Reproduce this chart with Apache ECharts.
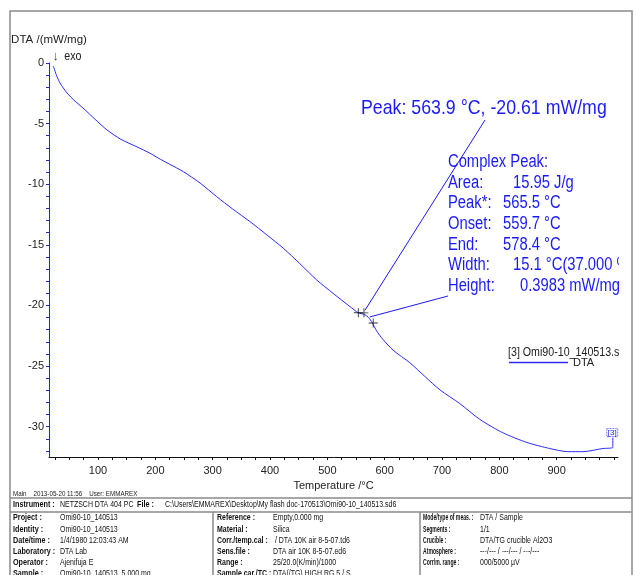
<!DOCTYPE html>
<html>
<head>
<meta charset="utf-8">
<script src="https://cdn.jsdelivr.net/npm/echarts@6/dist/echarts.min.js"></script>
<style>
html, body { margin: 0; padding: 0; background: #fff; }
#dta { width: 636px; height: 575px; }
</style>
</head>
<body>
<div id="dta"></div>
<script>
// DTA curve
var temps = [21.5, 23.2, 27, 33.7, 45.9, 60, 73.8, 95, 115.6, 140, 168, 190.6, 204.6, 225, 248.7, 278,
    306.9, 335, 365, 395, 423, 452, 481.3, 510, 539.4, 553.9, 565, 572, 578, 586, 597, 615, 644, 670,
    696.3, 731.2, 766, 806.2, 848, 888, 919.6, 945.7, 980.6, 998, 998];
var dta = [-0.25, -0.41, -0.95, -1.65, -2.47, -3.15, -3.71, -4.65, -5.52, -6.3, -6.92, -7.44, -7.83, -8.35, -8.96, -9.9,
    -11.02, -12.05, -13.08, -14.2, -15.27, -16.55, -17.89, -19.0, -20.09, -20.6, -20.75, -21.0, -21.4, -22.1, -22.8, -23.7, -24.73, -25.85,
    -26.96, -28.1, -29.4, -30.5, -31.3, -31.8, -32.06, -32.06, -31.8, -31.7, -30.9];

// evaluation crosses
var crossT = [554, 563.9, 580];
var crossY = [-20.6, -20.61, -21.45];

var xLabelValues = [100, 200, 300, 400, 500, 600, 700, 800, 900];
var xTickValues = [];
for (var t = 25; t <= 1000; t += 25) xTickValues.push(t);
var yLabelValues = [0, -5, -10, -15, -20, -25, -30];
var yTickValues = [];
for (var v = 0; v >= -32; v--) yTickValues.push(v);

var infoRows = [
    ['Project :', 'Omi90-10_140513', 'Reference :', 'Empty,0.000 mg', 'Mode/type of meas. :', 'DTA / Sample'],
    ['Identity :', 'Omi90-10_140513', 'Material :', 'Silica', 'Segments :', '1/1'],
    ['Date/time :', '1/4/1980 12:03:43 AM', 'Corr./temp.cal :', ' / DTA 10K air 8-5-07.td6', 'Crucible :', 'DTA/TG crucible Al2O3'],
    ['Laboratory :', 'DTA Lab', 'Sens.file :', 'DTA air 10K 8-5-07.ed6', 'Atmosphere :', '---/--- / ---/--- / ---/---'],
    ['Operator :', 'Ajenifuja E', 'Range :', '25/20.0(K/min)/1000', 'Corr/m. range :', '000/5000 µV'],
    ['Sample :', 'Omi90-10_140513, 5.000 mg', 'Sample car./TC :', 'DTA(/TG) HIGH RG 5 / S', '', '']
];

var peakLines = [
    ['Complex Peak:', ''],
    ['Area:', '15.95 J/g'],
    ['Peak*:', '565.5 °C'],
    ['Onset:', '559.7 °C'],
    ['End:', '578.4 °C'],
    ['Width:', '15.1 °C(37.000 %)'],
    ['Height:', '0.3983 mW/mg']
];
var peakValueX = [0, 513, 503, 503, 503, 513, 520];

var FONT = '"Liberation Sans", Arial, sans-serif';
var SQ = 0.82; // the instrument software draws a narrow face
var BLUE = '#1a1aff';

var chart = echarts.init(document.getElementById('dta'), 'white', {renderer: 'canvas'});

var curve = [];
for (var i = 0; i < temps.length; i++) curve.push([temps[i], dta[i]]);
var crosses = [];
for (var j = 0; j < crossT.length; j++) crosses.push([crossT[j], crossY[j]]);

function label(x, y, txt, size, color, bold, sq) {
    return {type: 'text', z: 5, x: x, y: y, scaleX: sq || SQ,
        style: {text: txt, font: (bold ? 'bold ' : '') + size + 'px ' + FONT, fill: color, verticalAlign: 'middle'}};
}

var graphics = [
    {type: 'rect', z: 60, shape: {x: 10, y: 11, width: 622, height: 580},
        style: {fill: 'none', stroke: '#8a8a8a', lineWidth: 1.5}},
    label(53, 56, '↓  exo', 13, '#222'),
    label(361, 108, 'Peak: 563.9 °C, -20.61 mW/mg', 21, BLUE, false, 0.845),
    label(508, 352, '[3] Omi90-10_140513.sd6', 13, '#222'),
    // white margin right of the plot clips the long texts
    {type: 'rect', z: 50, shape: {x: 619, y: 62, width: 17, height: 394}, style: {fill: '#fff'}},
    // info block
    label(13, 494, 'Main    2013-05-20 11:56    User: EMMAREX', 8, '#222', false, 0.78),
    {type: 'line', z: 5, shape: {x1: 10, y1: 498, x2: 632, y2: 498}, style: {stroke: '#8a8a8a', lineWidth: 1.5}},
    {type: 'line', z: 5, shape: {x1: 10, y1: 512, x2: 632, y2: 512}, style: {stroke: '#8a8a8a', lineWidth: 1.5}},
    {type: 'line', z: 5, shape: {x1: 213, y1: 512, x2: 213, y2: 575}, style: {stroke: '#8a8a8a', lineWidth: 1.5}},
    {type: 'line', z: 5, shape: {x1: 420, y1: 512, x2: 420, y2: 575}, style: {stroke: '#8a8a8a', lineWidth: 1.5}},
    label(13, 505, 'Instrument :', 8.5, '#111', true, 0.85),
    label(60, 505, 'NETZSCH DTA 404 PC', 8.5, '#111'),
    label(137, 505, 'File :', 8.5, '#111', true, 0.85),
    label(165, 505, 'C:\\Users\\EMMAREX\\Desktop\\My flash doc-170513\\Omi90-10_140513.sd6', 8.5, '#111')
];

var colX = [13, 60, 217, 273, 423, 480];
var boldSq = [0.85, 0, 0.82, 0, 0.6];
for (var r = 0; r < infoRows.length; r++) {
    for (var c = 0; c < 6; c++) {
        if (!infoRows[r][c]) continue;
        var bold = c % 2 === 0;
        graphics.push(label(colX[c], 518 + r * 11.2, infoRows[r][c], 8.5, '#111', bold, bold ? boldSq[c] : SQ));
    }
}
for (var k = 0; k < peakLines.length; k++) {
    var ly = 162 + k * 20.7;
    graphics.push(label(448, ly, peakLines[k][0], 18, BLUE));
    if (peakLines[k][1]) graphics.push(label(peakValueX[k], ly, peakLines[k][1], 18, BLUE));
}

chart.setOption({
    animation: false,
    backgroundColor: '#fff',
    grid: {left: 49, top: 63, right: 18, bottom: 118, containLabel: false},
    legend: {
        left: 509, top: 357, padding: 0, itemWidth: 59, itemHeight: 1.5, itemGap: 5,
        data: [{name: 'DTA', icon: 'rect'}],
        textStyle: {fontFamily: FONT, fontSize: 11, color: '#222'}
    },
    xAxis: {
        type: 'value', min: 14.5, max: 1007,
        name: 'Temperature /°C', nameLocation: 'middle', nameGap: 23,
        nameTextStyle: {fontFamily: FONT, fontSize: 11, color: '#222'},
        axisLine: {show: true, onZero: false, lineStyle: {color: '#111', width: 1}},
        axisTick: {show: true, length: 3, lineStyle: {color: '#111'}, customValues: xTickValues},
        axisLabel: {fontFamily: FONT, fontSize: 11, color: '#222', margin: 8, customValues: xLabelValues},
        splitLine: {show: false}
    },
    yAxis: {
        type: 'value', min: -32.5, max: 0,
        name: 'DTA /(mW/mg)', nameLocation: 'end', nameGap: 17,
        nameTextStyle: {fontFamily: FONT, fontSize: 11.5, color: '#222', align: 'center'},
        axisLine: {show: true, onZero: false, lineStyle: {color: '#2020ff', width: 1}},
        axisTick: {show: true, length: 3, lineStyle: {color: '#2020ff'}, customValues: yTickValues},
        axisLabel: {fontFamily: FONT, fontSize: 11, color: '#222', margin: 5, customValues: yLabelValues},
        splitLine: {show: false}
    },
    series: [
        {
            name: 'DTA', type: 'line', data: curve, showSymbol: false, smooth: 0.25,
            lineStyle: {color: '#2b2bff', width: 1}, itemStyle: {color: '#2b2bff'},
            endLabel: {show: true, formatter: '[3]', fontSize: 8, fontFamily: FONT, color: BLUE,
                borderColor: BLUE, borderWidth: 0.8, borderType: 'dotted', padding: [0, 1], distance: 0, offset: [-6, -5]},
            markLine: {
                silent: true, symbol: 'none', label: {show: false},
                lineStyle: {color: BLUE, width: 1, type: 'solid'},
                data: [
                    [{coord: [565.6, -20.4]}, {x: 485, y: 120}],
                    [{coord: [574, -20.95]}, {x: 448, y: 296}]
                ]
            }
        },
        {
            name: 'marks', type: 'scatter', data: crosses, z: 4,
            symbol: 'path://M4.5,0h1v4.5h4.5v1h-4.5v4.5h-1v-4.5h-4.5v-1h4.5z', symbolSize: 9,
            itemStyle: {color: '#000'}
        }
    ],
    graphic: graphics
});
</script>
</body>
</html>
